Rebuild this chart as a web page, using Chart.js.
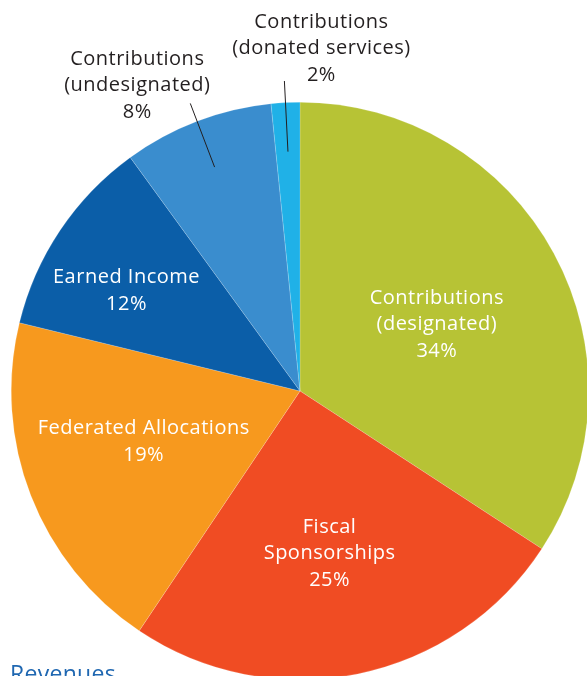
<!DOCTYPE html>
<html>
<head>
<meta charset="utf-8">
<script src="https://cdn.jsdelivr.net/npm/chart.js@4/dist/chart.umd.min.js"></script>
<style>
  html, body { margin: 0; padding: 0; background: #ffffff; overflow: hidden; width: 587px; height: 676px; }
  #wrap { position: absolute; left: 0; top: 0; width: 600px; height: 782px; }
  #title { position: absolute; left: 10px; top: 657px; font-family: "Open Sans", sans-serif; font-size: 23px; letter-spacing: 0.3px; color: #1F67B1; }
</style>
</head>
<body>
<div id="wrap"><canvas id="c" width="600" height="782"></canvas></div>
<div id="title">Revenues</div>
<script>
// ---- data ----
const categories = [
  ['Contributions', '(designated)'],
  ['Fiscal', 'Sponsorships'],
  ['Federated Allocations'],
  ['Earned Income'],
  ['Contributions', '(undesignated)'],
  ['Contributions', '(donated services)']
];
const values = [34.2, 25.2, 19.4, 11.2, 8.4, 1.6];
const pctLabels = ['34%', '25%', '19%', '12%', '8%', '2%'];
const colors = ['#B7C335', '#F04C23', '#F7991E', '#0B5EA8', '#3A8DCE', '#20B1E7'];

// label layout (inside: radius factor + nudge; outside: leader line + text offset)
const labelLayout = [
  { inside: true, r: 0.527, dx: 0, dy: 0, adj: 2.5 },
  { inside: true, r: 0.572, dx: 0, dy: 0, adj: 1.2 },
  { inside: true, r: 0.569, dx: 0, dy: 0, adj: 3.3 },
  { inside: true, r: 0.694, dx: 0, dy: 0, adj: -3.8 },
  { inside: false, r0: 0.83, r1: 1.066, tx: -53, ty: -18 },
  { inside: false, r0: 0.83, r1: 1.075, tx: 37, ty: -32.5 }
];

const labelPlugin = {
  id: 'sliceLabels',
  afterDraw(chart) {
    const ctx = chart.ctx;
    const meta = chart.getDatasetMeta(0);
    ctx.save();
    ctx.font = '20px "Open Sans", sans-serif';
    if ('letterSpacing' in ctx) ctx.letterSpacing = '0.5px';
    ctx.textAlign = 'center';
    ctx.textBaseline = 'middle';
    const lh = 26.5;
    meta.data.forEach((arc, i) => {
      const p = arc.getProps(['x', 'y', 'startAngle', 'endAngle', 'outerRadius'], true);
      const mid = (p.startAngle + p.endAngle) / 2;
      const L = labelLayout[i];
      const lines = categories[i].concat([pctLabels[i]]);
      let cx, cy;
      if (L.inside) {
        const a = mid + L.adj * Math.PI / 180;
        cx = p.x + Math.cos(a) * p.outerRadius * L.r + L.dx;
        cy = p.y + Math.sin(a) * p.outerRadius * L.r + L.dy;
        ctx.fillStyle = '#FFFFFF';
      } else {
        const x0 = p.x + Math.cos(mid) * p.outerRadius * L.r0;
        const y0 = p.y + Math.sin(mid) * p.outerRadius * L.r0;
        const x1 = p.x + Math.cos(mid) * p.outerRadius * L.r1;
        const y1 = p.y + Math.sin(mid) * p.outerRadius * L.r1;
        ctx.strokeStyle = '#231F20';
        ctx.lineWidth = 1;
        ctx.beginPath();
        ctx.moveTo(x0, y0);
        ctx.lineTo(x1, y1);
        ctx.stroke();
        cx = x1 + L.tx;
        cy = y1 + L.ty;
        ctx.fillStyle = '#231F20';
      }
      const top = cy - (lines.length - 1) * lh / 2;
      lines.forEach((t, k) => ctx.fillText(t, cx, top + k * lh));
    });
    ctx.restore();
  }
};

new Chart(document.getElementById('c'), {
  type: 'pie',
  data: {
    labels: categories.map(c => c.join(' ')),
    datasets: [{
      data: values,
      backgroundColor: colors,
      borderColor: 'rgba(255,255,255,0.35)',
      borderWidth: 0.5
    }]
  },
  options: {
    responsive: false,
    animation: false,
    layout: { padding: { left: 11, right: 11, top: 0, bottom: 0 } },
    plugins: { legend: { display: false }, tooltip: { enabled: false } }
  },
  plugins: [labelPlugin]
});
</script>
</body>
</html>
